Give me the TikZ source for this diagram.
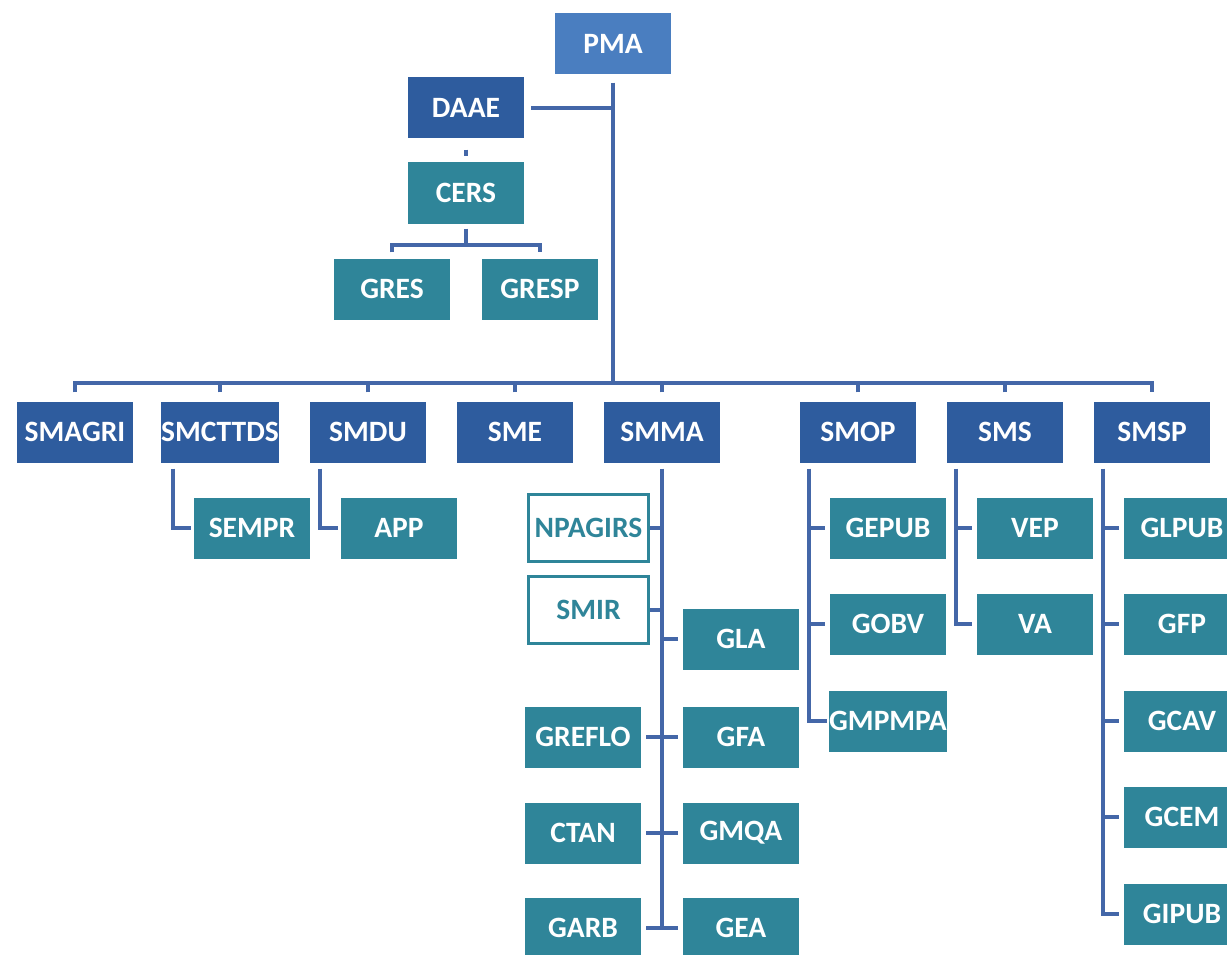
\documentclass[tikz,border=0pt]{standalone}
\usepackage{fontspec}
\setmainfont{Carlito}
\usetikzlibrary{calc}
\definecolor{pmablue}{HTML}{4A7EC0}
\definecolor{darkblue}{HTML}{2E5C9E}
\definecolor{tealbox}{HTML}{2F8599}
\definecolor{linecol}{HTML}{4467A8}
\begin{document}
\begin{tikzpicture}[x=1pt,y=-1pt,
  box/.style={rectangle, minimum width=116pt, minimum height=61pt, inner sep=0pt,
    text=white, font=\fontsize{29.5}{31}\selectfont\bfseries},
  topbox/.style={box, fill=pmablue},
  dbox/.style={box, fill=darkblue},
  tbox/.style={box, fill=tealbox},
  obox/.style={box, fill=white, draw=tealbox, line width=3pt, text=tealbox,
    minimum width=120pt, minimum height=67pt},
  conn/.style={draw=linecol, line width=4.2pt}]
\useasboundingbox (0,0) rectangle (1227,955);
\clip (0,0) rectangle (1227,955);
\fill[white] (0,0) rectangle (1227,955);

% nodes
\node[topbox] (PMA) at (613,44) {PMA};
\node[dbox] (DAAE) at (466,108) {DAAE};
\node[tbox] (CERS) at (466,193) {CERS};
\node[tbox] (GRES) at (392,289) {GRES};
\node[tbox] (GRESP) at (540,289) {GRESP};

\node[dbox] (SMAGRI) at (75,432) {SMAGRI};
\node[dbox] (SMCTTDS) at (220,432) {SMCTTDS};
\node[dbox] (SMDU) at (368,432) {SMDU};
\node[dbox] (SME) at (515,432) {SME};
\node[dbox] (SMMA) at (662,432) {SMMA};
\node[dbox] (SMOP) at (858,432) {SMOP};
\node[dbox] (SMS) at (1005,432) {SMS};
\node[dbox] (SMSP) at (1152,432) {SMSP};

\node[tbox] (SEMPR) at (252,528) {SEMPR};
\node[tbox] (APP) at (399,528) {APP};

\node[obox] (NPAGIRS) at (588.5,528) {NPAGIRS};
\node[obox] (SMIR) at (588.5,610) {SMIR};
\node[tbox] (GLA) at (741,639) {GLA};
\node[tbox] (GREFLO) at (583,737) {GREFLO};
\node[tbox] (GFA) at (741,737) {GFA};
\node[tbox] (CTAN) at (583,833) {CTAN};
\node[tbox] (GMQA) at (741,833) {GMQA};
\node[tbox] (GARB) at (583,928) {GARB};
\node[tbox] (GEA) at (741,928) {GEA};

\node[tbox] (GEPUB) at (888,528) {GEPUB};
\node[tbox] (GOBV) at (888,624) {GOBV};
\node[tbox] (GMPMPA) at (888,721) {GMPMPA};

\node[tbox] (VEP) at (1035,528) {VEP};
\node[tbox] (VA) at (1035,624) {VA};

\node[tbox] (GLPUB) at (1182,528) {GLPUB};
\node[tbox] (GFP) at (1182,624) {GFP};
\node[tbox] (GCAV) at (1182,721) {GCAV};
\node[tbox] (GCEM) at (1182,817) {GCEM};
\node[tbox] (GIPUB) at (1182,914) {GIPUB};

% connectors
\coordinate (bar) at (613,383);
\draw[conn] ([yshift=-8pt]PMA.south) -- (bar);
\draw[conn] ([xshift=7pt]DAAE.east) -- (DAAE.east -| PMA.south);
\draw[conn] ([yshift=-11pt]DAAE.south) -- ([yshift=6pt]CERS.north);
\coordinate (cb) at (466,245);
\draw[conn] ([yshift=-5pt]CERS.south) -- (cb);
\draw[conn] ([yshift=6pt]GRES.north) |- (cb) -| ([yshift=6pt]GRESP.north);

\draw[conn] ([yshift=9pt]SMAGRI.north) |- (bar) -| ([yshift=9pt]SMSP.north);
\foreach \n in {SMCTTDS,SMDU,SME,SMMA,SMOP,SMS}
  \draw[conn] ([yshift=9pt]\n.north) -- (\n.north |- bar);

\draw[conn] ([xshift=-47pt,yshift=-6pt]SMCTTDS.south) |- ([xshift=-3pt]SEMPR.west);
\draw[conn] ([xshift=-48pt,yshift=-6pt]SMDU.south) |- ([xshift=-3pt]APP.west);

% SMMA branch
\draw[conn] ([yshift=-6pt]SMMA.south) -- (SMMA.south |- GEA);
\draw[conn] (NPAGIRS.east) -- (NPAGIRS.east -| SMMA.south);
\draw[conn] (SMIR.east) -- (SMIR.east -| SMMA.south);
\draw[conn] ([xshift=-5pt]GLA.west) -- (GLA.west -| SMMA.south);
\draw[conn] ([xshift=5pt]GREFLO.east) -- ([xshift=-5pt]GFA.west);
\draw[conn] ([xshift=5pt]CTAN.east) -- ([xshift=-5pt]GMQA.west);
\draw[conn] ([xshift=5pt]GARB.east) -- ([xshift=-5pt]GEA.west);

% SMOP branch
\coordinate (opx) at ([xshift=-49pt]SMOP.south);
\draw[conn] ([yshift=-6pt]opx) |- ([xshift=-2pt]GMPMPA.west);
\draw[conn] ([xshift=-5pt]GEPUB.west) -- (GEPUB.west -| opx);
\draw[conn] ([xshift=-5pt]GOBV.west) -- (GOBV.west -| opx);

% SMS branch
\coordinate (sx) at ([xshift=-49pt]SMS.south);
\draw[conn] ([yshift=-6pt]sx) |- ([xshift=-5pt]VA.west);
\draw[conn] ([xshift=-5pt]VEP.west) -- (VEP.west -| sx);

% SMSP branch
\coordinate (px) at ([xshift=-49pt]SMSP.south);
\draw[conn] ([yshift=-6pt]px) |- ([xshift=-5pt]GIPUB.west);
\foreach \n in {GLPUB,GFP,GCAV,GCEM}
  \draw[conn] ([xshift=-5pt]\n.west) -- (\n.west -| px);
\end{tikzpicture}
\end{document}
